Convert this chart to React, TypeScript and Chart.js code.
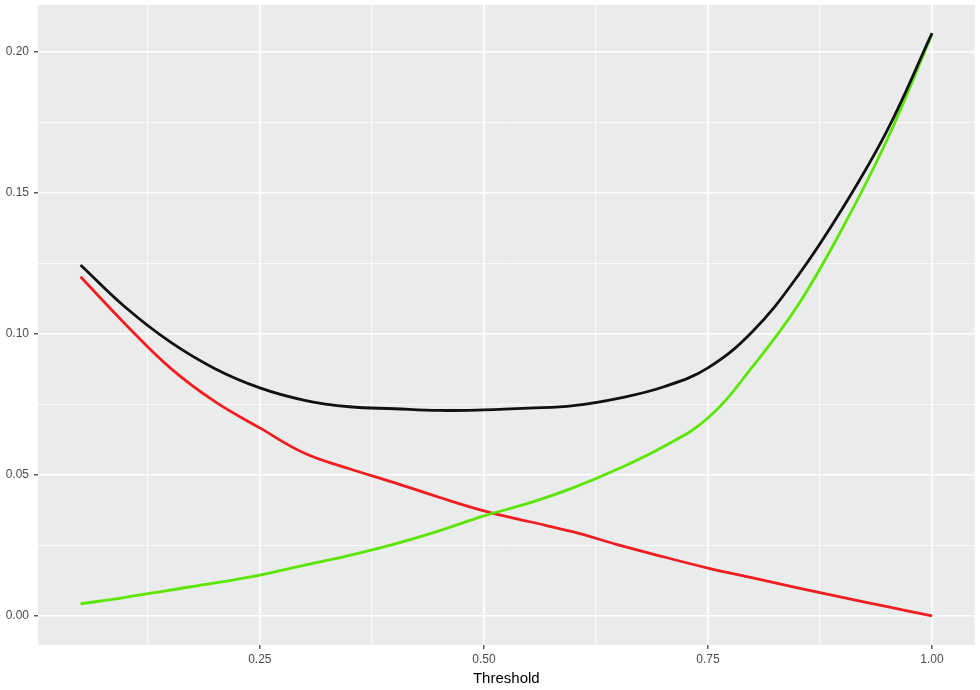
import React, { useEffect, useRef } from "react";
import { Chart, registerables } from "chart.js";

Chart.register(...registerables);

const thresholds = [0.05, 0.1, 0.15, 0.2, 0.25, 0.3, 0.35, 0.4, 0.45, 0.5, 0.55, 0.6, 0.65, 0.7, 0.75, 0.8, 0.85, 0.9, 0.95, 1.0];
const totalValues = [0.1245, 0.1095, 0.0972, 0.0877, 0.0809, 0.0765, 0.0742, 0.0735, 0.0729, 0.0731, 0.0737, 0.0746, 0.0772, 0.0812, 0.088, 0.101, 0.1205, 0.1445, 0.1722, 0.2067];
const greenValues = [0.0043, 0.0066, 0.0092, 0.0117, 0.0145, 0.018, 0.0215, 0.0255, 0.0302, 0.0355, 0.04, 0.0455, 0.0522, 0.06, 0.0702, 0.0885, 0.11, 0.1375, 0.169, 0.2063];
const redValues = [0.1203, 0.1035, 0.088, 0.076, 0.0667, 0.0577, 0.0522, 0.0473, 0.0421, 0.0373, 0.0335, 0.0298, 0.0252, 0.021, 0.017, 0.0135, 0.01, 0.0066, 0.0033, 0.0];
const xTickValues = [0.125, 0.25, 0.375, 0.5, 0.625, 0.75, 0.875, 1.0];
const yTickValues = [0, 0.025, 0.05, 0.075, 0.1, 0.125, 0.15, 0.175, 0.2];

const isMajor = (v: number, step: number) => Math.abs(v / step - Math.round(v / step)) < 1e-6;

export default function App() {
  const ref = useRef<HTMLCanvasElement | null>(null);
  useEffect(() => {
    document.body.style.margin = "0";
    const canvas = ref.current;
    if (!canvas) return;
    const pts = (vals: number[]) => thresholds.map((x, i) => ({ x, y: vals[i] }));
    const bg = {
      id: "panelBg",
      beforeDraw(chart: any) {
        const { ctx, chartArea } = chart;
        ctx.save();
        ctx.fillStyle = "#ffffff";
        ctx.fillRect(0, 0, chart.width, chart.height);
        ctx.fillStyle = "#E9ECEB";
        ctx.fillRect(chartArea.left, chartArea.top, chartArea.right - chartArea.left, chartArea.bottom - chartArea.top);
        ctx.restore();
      },
    };
    const font = { family: "'Liberation Sans', Arial, sans-serif", size: 12 };
    const chart = new Chart(canvas, {
      type: "line",
      data: {
        datasets: [
          { data: pts(totalValues), borderColor: "#111111", borderWidth: 2.8 },
          { data: pts(greenValues), borderColor: "#5CE500", borderWidth: 2.8 },
          { data: pts(redValues), borderColor: "#F01E23", borderWidth: 2.8 },
        ].map((d) => ({ ...d, pointRadius: 0, fill: false, tension: 0.4 })),
      },
      plugins: [bg],
      options: {
        animation: false,
        responsive: false,
        maintainAspectRatio: false,
        layout: { padding: { left: 0, right: 5.4, top: 5, bottom: 0 } },
        plugins: { legend: { display: false }, tooltip: { enabled: false } },
        scales: {
          x: {
            type: "linear",
            min: 0.0025,
            max: 1.0475,
            afterBuildTicks: (s: any) => { s.ticks = xTickValues.map((value) => ({ value })); },
            afterFit: (s: any) => { s.height = 45; s.paddingLeft = 0; s.paddingRight = 0; },
            border: { display: false },
            grid: {
              color: "#ffffff",
              lineWidth: (c: any) => (isMajor(c.tick?.value ?? 0, 0.25) ? 1.6 : 0.8),
              tickColor: (c: any) => (isMajor(c.tick?.value ?? 0, 0.25) ? "#333333" : "rgba(0,0,0,0)"),
              tickLength: 4,
              tickWidth: 1.2,
            },
            ticks: {
              autoSkip: false,
              maxRotation: 0,
              padding: 3,
              color: "#4D4D4D",
              font,
              callback: (v: any) => (isMajor(Number(v), 0.25) ? Number(v).toFixed(2) : ""),
            },
            title: {
              display: true,
              text: "Threshold",
              color: "#000000",
              font: { family: "'Liberation Sans', Arial, sans-serif", size: 15 },
              padding: { top: 0, bottom: 2 },
            },
          },
          y: {
            type: "linear",
            min: -0.0103,
            max: 0.2167,
            afterBuildTicks: (s: any) => { s.ticks = yTickValues.map((value) => ({ value })); },
            afterFit: (s: any) => { s.width = 38; s.paddingTop = 0; s.paddingBottom = 0; },
            border: { display: false },
            grid: {
              color: "#ffffff",
              lineWidth: (c: any) => (isMajor(c.tick?.value ?? 0, 0.05) ? 1.6 : 0.8),
              tickColor: (c: any) => (isMajor(c.tick?.value ?? 0, 0.05) ? "#333333" : "rgba(0,0,0,0)"),
              tickLength: 4,
              tickWidth: 1.2,
            },
            ticks: {
              autoSkip: false,
              padding: 5,
              color: "#4D4D4D",
              font,
              callback: (v: any) => (isMajor(Number(v), 0.05) ? Number(v).toFixed(2) : ""),
            },
          },
        },
      } as any,
    });
    return () => chart.destroy();
  }, []);
  return (
    <div style={{ width: 980, height: 690 }}>
      <canvas ref={ref} width={980} height={690} style={{ display: "block", width: 980, height: 690 }} />
    </div>
  );
}
